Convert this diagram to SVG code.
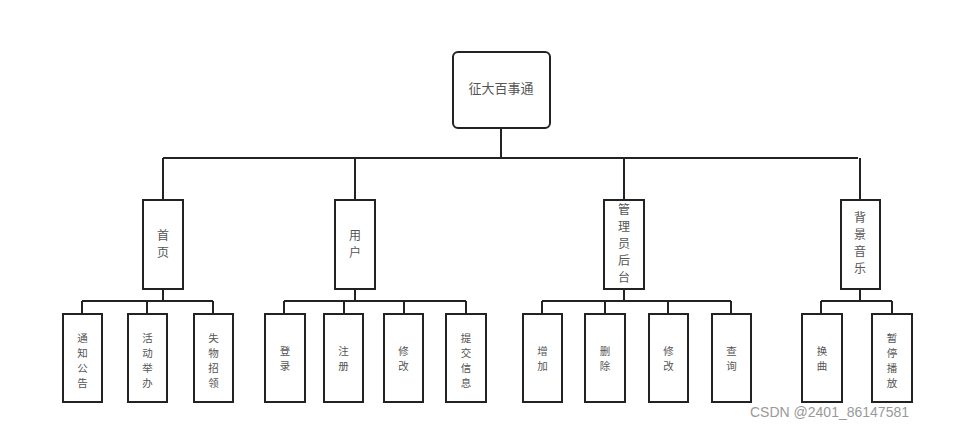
<svg xmlns="http://www.w3.org/2000/svg" width="967" height="429" viewBox="0 0 967 429">
<style>
.box{fill:#fff;stroke:#222;stroke-width:2}
.ln{fill:none;stroke:#222;stroke-width:2}
.t{font-family:"Noto Sans CJK SC","Liberation Sans",sans-serif;font-size:12px;fill:#555;text-anchor:middle}
.s{font-size:10.5px}
.wm{font-family:"Liberation Sans",sans-serif;font-size:14px;fill:#999}
</style>
<rect width="967" height="429" fill="#fff"/>
<g id="connectors">
<path class="ln" d="M501,128V158M163,158H858M163,158V200M355,158V200M624,158V200M860,158V200"/>
<path class="ln" d="M163,289V301M82,301H213M82,301V314M147,301V314M213,301V314"/>
<path class="ln" d="M355,289V301M284,301H466M284,301V314M344,301V314M404,301V314M466,301V314"/>
<path class="ln" d="M624,289V301M542,301H731M542,301V314M605,301V314M668,301V314M731,301V314"/>
<path class="ln" d="M860,289V301M821,301H892M821,301V314M892,301V314"/>
</g>
<g id="root"><rect class="box" x="453" y="52" width="97" height="76" rx="5"/><text class="t" x="501" y="93" style="font-size:13px">征大百事通</text></g>
<g id="n-home"><rect class="box" x="143" y="200" width="40" height="89"/><text class="t" x="163" y="240"><tspan x="163">首</tspan><tspan x="163" dy="17">页</tspan></text></g>
<g id="n-user"><rect class="box" x="335" y="200" width="40" height="89"/><text class="t" x="355" y="240"><tspan x="355">用</tspan><tspan x="355" dy="17">户</tspan></text></g>
<g id="n-admin"><rect class="box" x="604" y="200" width="40" height="89"/><text class="t" x="624" y="214"><tspan x="624">管</tspan><tspan x="624" dy="17">理</tspan><tspan x="624" dy="17">员</tspan><tspan x="624" dy="17">后</tspan><tspan x="624" dy="17">台</tspan></text></g>
<g id="n-music"><rect class="box" x="841" y="200" width="39" height="89"/><text class="t" x="860" y="222"><tspan x="860">背</tspan><tspan x="860" dy="17">景</tspan><tspan x="860" dy="17">音</tspan><tspan x="860" dy="17">乐</tspan></text></g>
<g id="l1"><rect class="box" x="63" y="314" width="39" height="88"/><text class="t s" x="82.5" y="342"><tspan x="82.5">通</tspan><tspan x="82.5" dy="15">知</tspan><tspan x="82.5" dy="15">公</tspan><tspan x="82.5" dy="15">告</tspan></text></g>
<g id="l2"><rect class="box" x="128" y="314" width="39" height="88"/><text class="t s" x="147.5" y="342"><tspan x="147.5">活</tspan><tspan x="147.5" dy="15">动</tspan><tspan x="147.5" dy="15">举</tspan><tspan x="147.5" dy="15">办</tspan></text></g>
<g id="l3"><rect class="box" x="194" y="314" width="39" height="88"/><text class="t s" x="213.5" y="342"><tspan x="213.5">失</tspan><tspan x="213.5" dy="15">物</tspan><tspan x="213.5" dy="15">招</tspan><tspan x="213.5" dy="15">领</tspan></text></g>
<g id="l4"><rect class="box" x="265" y="314" width="40" height="88"/><text class="t s" x="285" y="355"><tspan x="285">登</tspan><tspan x="285" dy="15">录</tspan></text></g>
<g id="l5"><rect class="box" x="324" y="314" width="39" height="88"/><text class="t s" x="343.5" y="355"><tspan x="343.5">注</tspan><tspan x="343.5" dy="15">册</tspan></text></g>
<g id="l6"><rect class="box" x="384" y="314" width="39" height="88"/><text class="t s" x="403.5" y="355"><tspan x="403.5">修</tspan><tspan x="403.5" dy="15">改</tspan></text></g>
<g id="l7"><rect class="box" x="446" y="314" width="40" height="88"/><text class="t s" x="466" y="342"><tspan x="466">提</tspan><tspan x="466" dy="15">交</tspan><tspan x="466" dy="15">信</tspan><tspan x="466" dy="15">息</tspan></text></g>
<g id="l8"><rect class="box" x="523" y="314" width="39" height="88"/><text class="t s" x="542.5" y="355"><tspan x="542.5">增</tspan><tspan x="542.5" dy="15">加</tspan></text></g>
<g id="l9"><rect class="box" x="585" y="314" width="40" height="88"/><text class="t s" x="605" y="355"><tspan x="605">删</tspan><tspan x="605" dy="15">除</tspan></text></g>
<g id="l10"><rect class="box" x="649" y="314" width="39" height="88"/><text class="t s" x="668.5" y="355"><tspan x="668.5">修</tspan><tspan x="668.5" dy="15">改</tspan></text></g>
<g id="l11"><rect class="box" x="712" y="314" width="39" height="88"/><text class="t s" x="731.5" y="355"><tspan x="731.5">查</tspan><tspan x="731.5" dy="15">询</tspan></text></g>
<g id="l12"><rect class="box" x="802" y="314" width="40" height="88"/><text class="t s" x="822" y="355"><tspan x="822">换</tspan><tspan x="822" dy="15">曲</tspan></text></g>
<g id="l13"><rect class="box" x="872" y="314" width="40" height="88"/><text class="t s" x="892" y="342"><tspan x="892">暂</tspan><tspan x="892" dy="15">停</tspan><tspan x="892" dy="15">播</tspan><tspan x="892" dy="15">放</tspan></text></g>
<text class="wm" x="750" y="417">CSDN @2401_86147581</text>
</svg>
